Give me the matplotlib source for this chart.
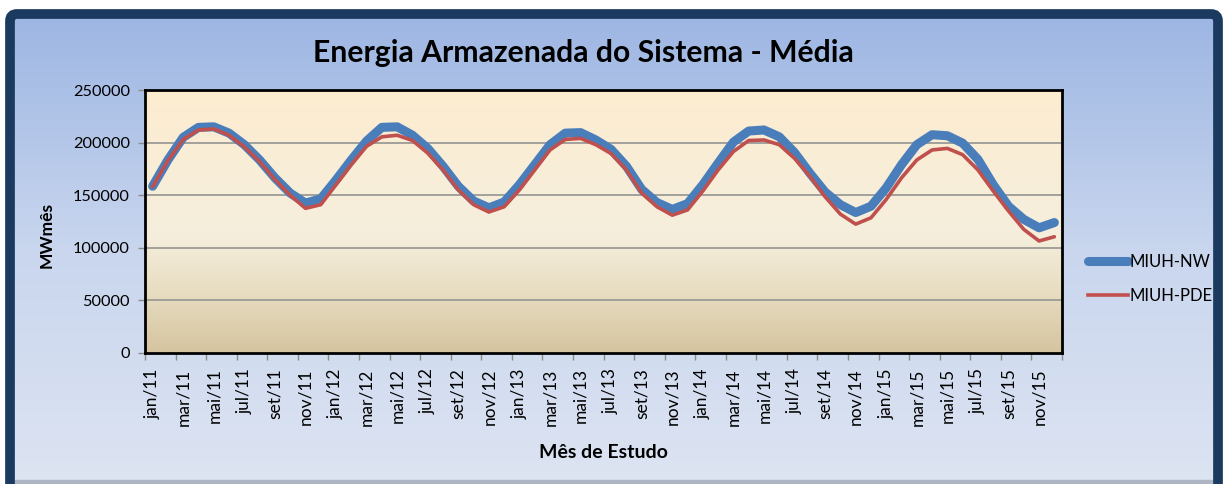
import numpy as np
import matplotlib
matplotlib.use("Agg")
import matplotlib.pyplot as plt
from matplotlib.colors import LinearSegmentedColormap
from matplotlib.patches import FancyBboxPatch
from matplotlib.lines import Line2D

plt.rcParams['font.family'] = ['Lato', 'DejaVu Sans']

# Study months (jan/2011 .. dez/2015)
month_names = ['jan', 'fev', 'mar', 'abr', 'mai', 'jun',
               'jul', 'ago', 'set', 'out', 'nov', 'dez']
years = ['11', '12', '13', '14', '15']
months = [f'{m}/{y}' for y in years for m in month_names]

# Mean stored energy (MWmês)
miuh_nw = [158500, 183500, 205000, 214500, 215000, 209000, 198000, 183500, 166500, 152000, 142500, 146500,
           164500, 183500, 201500, 214500, 215000, 207000, 194500, 177500, 158500, 144500, 138000, 143500,
           160000, 179000, 198000, 209000, 209500, 202500, 193500, 177500, 155500, 143000, 136500, 142000,
           160000, 180500, 200500, 211000, 212000, 205500, 190500, 171000, 153000, 141000, 133500, 139500,
           157000, 179000, 198000, 207500, 206500, 199500, 184000, 160000, 139500, 127000, 119000, 124000]
miuh_pde = [158000, 183000, 203000, 212000, 213000, 207000, 196000, 182000, 165000, 150000, 137500, 141000,
            160000, 179000, 196500, 205500, 207000, 202000, 190000, 174000, 155000, 141000, 134000, 139000,
            155000, 174000, 193000, 203000, 204000, 198000, 189500, 174000, 152000, 139000, 131000, 136000,
            154000, 174000, 191500, 202000, 202500, 198000, 185000, 168000, 148500, 132000, 122500, 128500,
            146000, 166500, 183500, 193000, 194500, 188500, 174000, 154000, 135000, 117500, 106500, 110500]

y_ticks = [0, 50000, 100000, 150000, 200000, 250000]

W, H = 1227, 484
fig = plt.figure(figsize=(W / 100, H / 100), dpi=100)
fig.patch.set_facecolor('white')

# Background panel with blue vertical gradient and dark frame
bg = fig.add_axes([0, 0, 1, 1], zorder=-10)
bg.set_xlim(0, W)
bg.set_ylim(0, H)
bg.axis('off')
bg_cmap = LinearSegmentedColormap.from_list('bg', ['#dde4f2', '#c9d6ee', '#9db6e3'])
grad = np.linspace(0, 1, 256).reshape(-1, 1)
bg.imshow(grad, extent=[12, 1216, 0, 468], cmap=bg_cmap, origin='lower',
          aspect='auto', zorder=0)
bg.add_patch(plt.Rectangle((12, 0), 1204, 4, color='#aeb6c4', zorder=1))
bg.add_patch(FancyBboxPatch((10, -30), 1208, 500,
                            boxstyle='round,pad=0,rounding_size=7',
                            fill=False, edgecolor='#1b3a60', linewidth=7, zorder=2))

# Plot area
ax = fig.add_axes([145 / W, 1 - 353 / H, (1062 - 145) / W, (353 - 90) / H])
x = np.arange(len(months))
ax.set_xlim(-0.5, len(months) - 0.5)
ax.set_ylim(0, 250000)

plot_cmap = LinearSegmentedColormap.from_list(
    'plot', [(0.0, '#d5c49f'), (0.22, '#e7dcc0'), (0.45, '#f5efdd'), (1.0, '#fdecd0')])
ax.imshow(grad, extent=[-0.5, len(months) - 0.5, 0, 250000], cmap=plot_cmap,
          origin='lower', aspect='auto', zorder=0)

for yt in y_ticks[1:-1]:
    ax.axhline(yt, color='#9a9a96', linewidth=1.3, zorder=1)

ax.plot(x, miuh_nw, color='#4a7ebb', linewidth=6.5, solid_capstyle='round',
        solid_joinstyle='round', zorder=3, label='MIUH-NW')
ax.plot(x, miuh_pde, color='#c0504d', linewidth=2.6, solid_capstyle='round',
        solid_joinstyle='round', zorder=4, label='MIUH-PDE')

for s in ax.spines.values():
    s.set_linewidth(2)
    s.set_color('black')

ax.set_yticks(y_ticks)
ax.set_yticklabels([str(v) for v in y_ticks], fontsize=11.8)
ax.tick_params(axis='y', length=5, width=1, color='#8c8c8c', pad=6)

ax.set_xticks(x[::2])
ax.set_xticklabels(months[::2], rotation=90, fontsize=12.5)
ax.set_xticks(np.arange(-0.5, len(months), 2), minor=True)
ax.tick_params(axis='x', which='major', length=0, pad=11)
ax.tick_params(axis='x', which='minor', length=5, width=1, color='#8c8c8c')

ax.set_ylabel('MWmês', fontsize=12.5, fontweight='bold')
ax.yaxis.set_label_coords((47 - 145) / (1062 - 145), (353 - 235) / (353 - 90))
ax.set_xlabel('Mês de Estudo', fontsize=14, fontweight='bold')
ax.xaxis.set_label_coords(0.5, -(452 - 353) / (353 - 90))
ax.xaxis.label.set_va('center')
ax.yaxis.label.set_va('center')

fig.text(583 / W, 1 - 53 / H, 'Energia Armazenada do Sistema - Média',
         ha='center', va='center', fontsize=21.7, fontweight='bold')

handles = [Line2D([], [], color='#4a7ebb', linewidth=6.5, solid_capstyle='round'),
           Line2D([], [], color='#c0504d', linewidth=2.6)]
fig.legend(handles, ['MIUH-NW', 'MIUH-PDE'], loc='center left',
           bbox_to_anchor=(1088 / W, 1 - 279 / H), frameon=False, fontsize=12,
           borderpad=0, borderaxespad=0, handlelength=2.4, handletextpad=0.1,
           labelspacing=1.1)

fig.savefig('out.png', dpi=100)
